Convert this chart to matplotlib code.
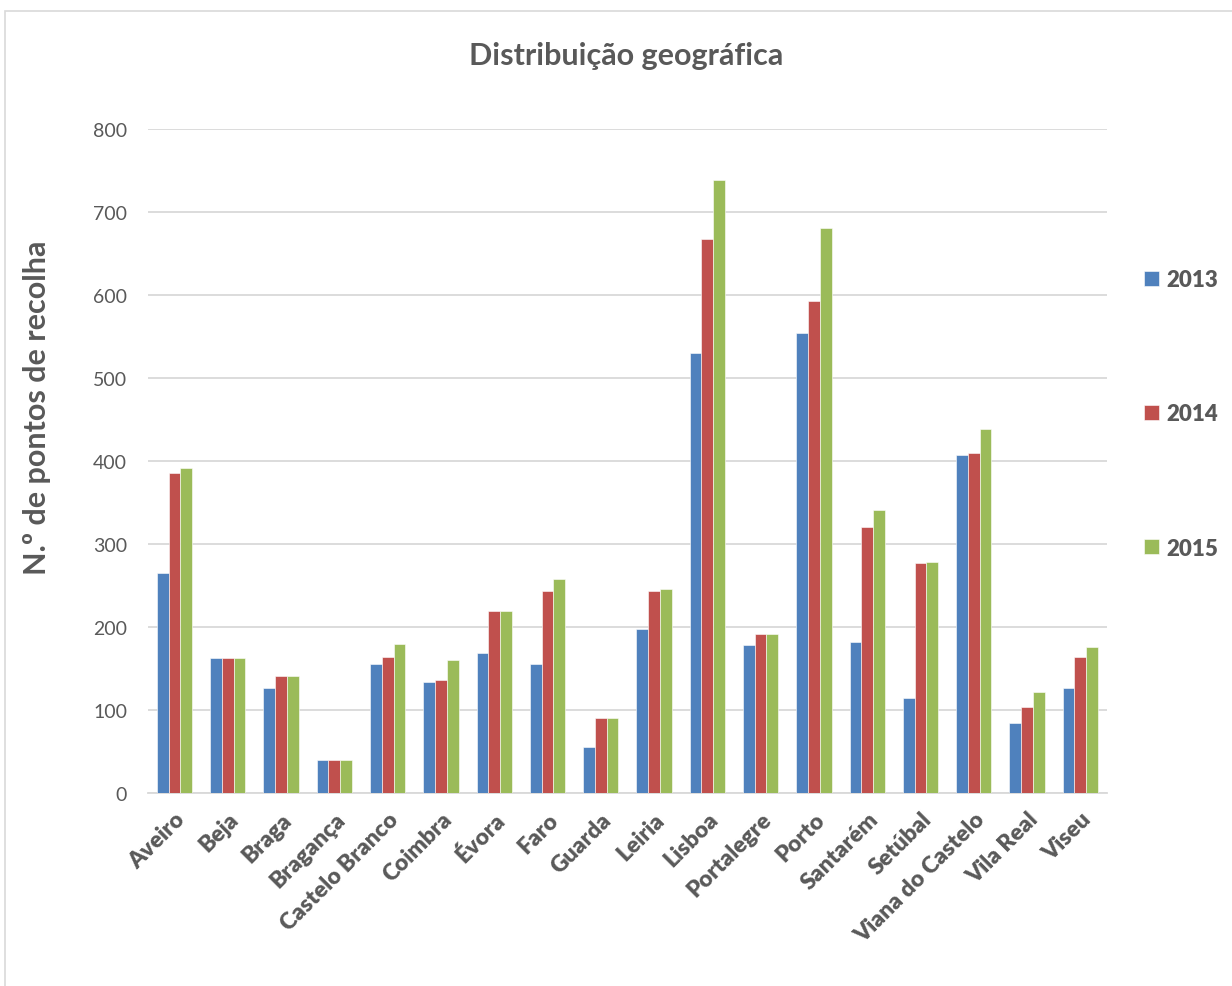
import numpy as np
import matplotlib.pyplot as plt
from matplotlib.patches import Rectangle

# data
districts = ['Aveiro', 'Beja', 'Braga', 'Bragança', 'Castelo Branco', 'Coimbra',
             'Évora', 'Faro', 'Guarda', 'Leiria', 'Lisboa', 'Portalegre', 'Porto',
             'Santarém', 'Setúbal', 'Viana do Castelo', 'Vila Real', 'Viseu']
v2013 = [265, 163, 126, 40, 155, 134, 169, 155, 56, 198, 530, 178, 554, 182, 115, 407, 84, 127]
v2014 = [385, 163, 141, 40, 164, 136, 219, 243, 90, 243, 667, 192, 593, 320, 277, 410, 104, 164]
v2015 = [391, 163, 141, 40, 180, 160, 219, 258, 90, 246, 738, 192, 681, 341, 278, 439, 122, 176]
years = ['2013', '2014', '2015']
colors = ['#4F81BD', '#C0504D', '#9BBB59']

plt.rcParams['font.family'] = ['Lato', 'DejaVu Sans']
txt = '#595959'
grid = '#D9D9D9'

fig = plt.figure(figsize=(12.32, 9.87), dpi=100)
ax = fig.add_axes([0.120, 0.1955, 0.7785, 0.6728])

x = np.arange(len(districts))
w = 0.221
for i, (vals, lab, c) in enumerate(zip([v2013, v2014, v2015], years, colors)):
    ax.bar(x + (i - 1) * w, vals, width=w, color=c, label=lab,
           edgecolor='white', linewidth=0.4, zorder=3)

ax.set_xlim(-0.5, len(districts) - 0.5)
ax.set_ylim(0, 800)
ax.set_yticks(range(0, 801, 100))
ax.yaxis.grid(True, color=grid, linewidth=1.3, zorder=0)
for s in ['top', 'right', 'left']:
    ax.spines[s].set_visible(False)
ax.spines['bottom'].set_color(grid)
ax.spines['bottom'].set_linewidth(1.3)
ax.tick_params(axis='both', length=0, colors=txt)
ax.tick_params(axis='y', labelsize=14, pad=15)
ax.set_xticks(x)
ax.set_xticklabels(districts, rotation=45, ha='right', rotation_mode='anchor',
                   fontsize=16.5, fontweight='heavy', color=txt)
ax.tick_params(axis='x', pad=11)

fig.text(37 / 1232, 1 - 408 / 987, 'N.º de pontos de recolha', rotation=90,
         ha='center', va='center', fontsize=22, fontweight='bold', color=txt)
fig.text(0.508, 0.943, 'Distribuição geográfica', ha='center', va='center',
         fontsize=22, fontweight='bold', color=txt)

leg = ax.legend(loc='center left', bbox_to_anchor=(1.018, 0.571), frameon=False,
                handlelength=0.65, handleheight=0.65, handletextpad=0.35,
                labelspacing=5.1, prop={'size': 16, 'weight': 'bold'})
for t in leg.get_texts():
    t.set_color(txt)
    t.set_fontweight('heavy')

fig.patches.append(Rectangle((0.004, -0.01), 1.0, 0.998, transform=fig.transFigure,
                             fill=False, edgecolor=grid, linewidth=1.2))

plt.savefig('out.png', dpi=100)
